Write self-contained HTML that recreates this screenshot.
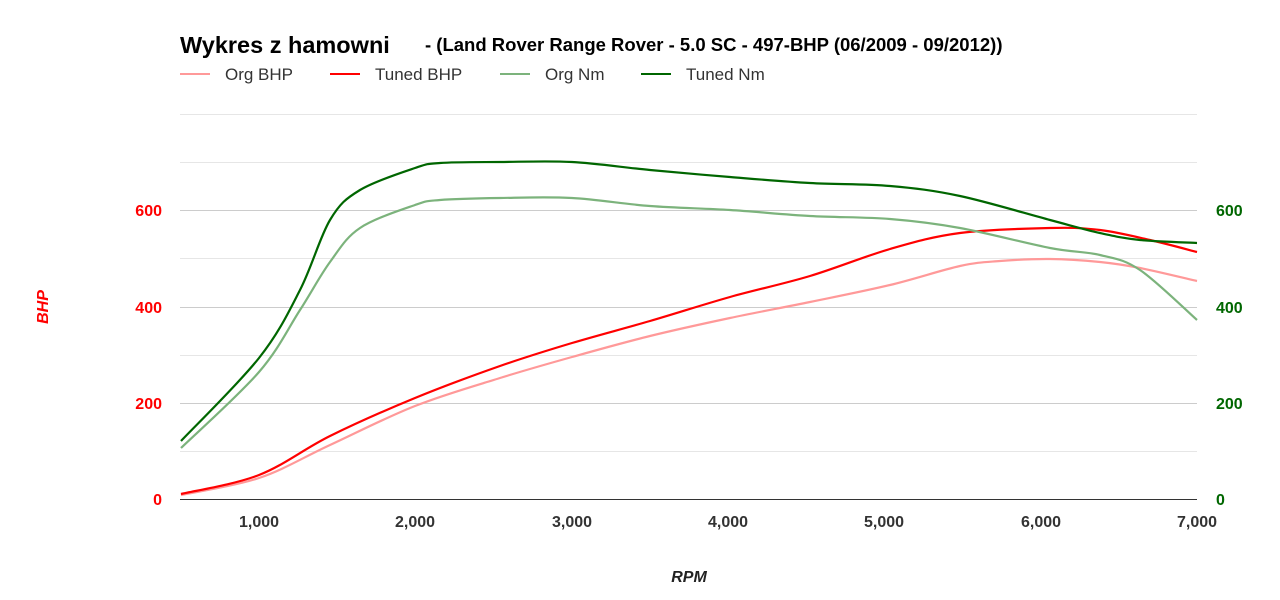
<!DOCTYPE html>
<html><head><meta charset="utf-8"><style>
body{margin:0;background:#fff;}
svg{display:block;font-family:"Liberation Sans",Arial,sans-serif;}
</style></head><body>
<svg id="s" width="1280" height="600" xmlns="http://www.w3.org/2000/svg">
<rect width="1280" height="600" fill="#fff"/>
<text x="180" y="53" font-size="23.5" font-weight="bold" fill="#000">Wykres z hamowni</text>
<text x="425" y="51" font-size="18.5" font-weight="bold" fill="#000">- (Land Rover Range Rover - 5.0 SC - 497-BHP (06/2009 - 09/2012))</text>
<line x1="180" y1="74" x2="210" y2="74" stroke="#f99" stroke-width="2"/><text x="225" y="80" font-size="17" fill="#333">Org BHP</text>
<line x1="330" y1="74" x2="360" y2="74" stroke="#f00" stroke-width="2"/><text x="375" y="80" font-size="17" fill="#333">Tuned BHP</text>
<line x1="500" y1="74" x2="530" y2="74" stroke="#7cb37c" stroke-width="2"/><text x="545" y="80" font-size="17" fill="#333">Org Nm</text>
<line x1="641" y1="74" x2="671" y2="74" stroke="#060" stroke-width="2"/><text x="686" y="80" font-size="17" fill="#333">Tuned Nm</text>
<g stroke="#e6e6e6" stroke-width="1">
<line x1="180" x2="1197" y1="114.5" y2="114.5"/><line x1="180" x2="1197" y1="162.5" y2="162.5"/>
<line x1="180" x2="1197" y1="258.5" y2="258.5"/><line x1="180" x2="1197" y1="355.5" y2="355.5"/>
<line x1="180" x2="1197" y1="451.5" y2="451.5"/></g>
<g stroke="#ccc" stroke-width="1">
<line x1="180" x2="1197" y1="210.5" y2="210.5"/><line x1="180" x2="1197" y1="307.5" y2="307.5"/>
<line x1="180" x2="1197" y1="403.5" y2="403.5"/></g>
<line x1="180" x2="1197" y1="499.5" y2="499.5" stroke="#333"/>
<g font-size="16" font-weight="bold" fill="#f00" text-anchor="end">
<text x="162" y="505">0</text><text x="162" y="409">200</text><text x="162" y="313">400</text><text x="162" y="216">600</text></g>
<g font-size="16" font-weight="bold" fill="#060" text-anchor="start">
<text x="1216" y="505">0</text><text x="1216" y="409">200</text><text x="1216" y="313">400</text><text x="1216" y="216">600</text></g>
<g font-size="16" font-weight="bold" fill="#333" text-anchor="middle">
<text x="259" y="527">1,000</text><text x="415" y="527">2,000</text><text x="572" y="527">3,000</text><text x="728" y="527">4,000</text><text x="884" y="527">5,000</text><text x="1041" y="527">6,000</text><text x="1197" y="527">7,000</text></g>
<text x="689" y="582" font-size="16" font-weight="bold" font-style="italic" fill="#222" text-anchor="middle">RPM</text>
<text transform="translate(48,307) rotate(-90)" font-size="16" font-weight="bold" font-style="italic" fill="#f00" text-anchor="middle">BHP</text>
<g id="lines" fill="none" stroke-width="2.2" stroke-linejoin="round"></g>
</svg>
<script>
var D=[
["#f99",[[181,495],[259,478],[330,445],[415,406],[500,378],[572,357],[650,336],[730,318],[810,302],[890,285],[960,266],[1000,261],[1050,259],[1100,262],[1140,268],[1197,281]]],
["#f00",[[181,494],[259,475],[330,436],[415,398],[500,366],[572,343],[650,321],[730,297],[810,276],[890,249],[960,233],[1050,228],[1100,230],[1150,240],[1197,252]]],
["#7cb37c",[[181,448],[259,372],[300,310],[330,262],[360,228],[415,205],[440,200],[500,198],[572,198],[650,206],[730,210],[810,216],[890,219],[960,228],[1050,248],[1100,255],[1140,270],[1197,320]]],
["#060",[[181,441],[259,358],[300,290],[330,220],[360,190],[415,168],[440,163],[500,162],[572,162],[650,170],[730,177],[810,183],[890,186],[960,196],[1050,220],[1100,233],[1140,240],[1197,243]]]];
var g=document.getElementById('lines');
D.forEach(function(d){var p=d[1],s="M"+p[0][0]+","+p[0][1];
for(var i=0;i<p.length-1;i++){var a=p[i-1]||p[i],b=p[i],c=p[i+1],e=p[i+2]||c;
s+=" C"+(b[0]+(c[0]-a[0])/6)+","+(b[1]+(c[1]-a[1])/6)+" "+(c[0]-(e[0]-b[0])/6)+","+(c[1]-(e[1]-b[1])/6)+" "+c[0]+","+c[1];}
var el=document.createElementNS("http://www.w3.org/2000/svg","path");el.setAttribute("d",s);el.setAttribute("stroke",d[0]);g.appendChild(el);});
</script>
</body></html>
